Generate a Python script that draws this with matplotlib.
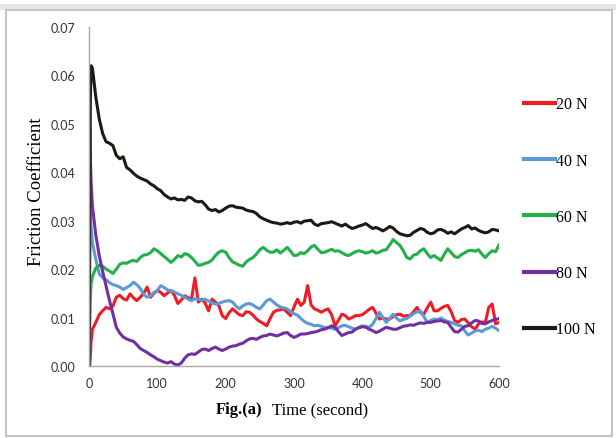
import matplotlib
matplotlib.use("Agg")
import matplotlib.pyplot as plt
from matplotlib.patches import Rectangle

# sample times [s]
time_s = [0, 1, 2, 3] + list(range(5, 605, 5))

# friction coefficient, in units of 1e-3
mu_20 = [
    0, 0, 2, 5,
    7.6, 9.0, 10.6, 11.4, 12.1, 11.8, 12.4, 14.2, 14.6, 13.9,
    13.6, 14.9, 14.1, 13.5, 14.2, 15.0, 16.3, 14.2, 15.0, 15.6,
    15.2, 14.5, 15.1, 15.6, 14.6, 12.9, 13.6, 14.5, 14.1, 13.8,
    18.2, 13.2, 13.8, 13.0, 11.4, 13.8, 13.2, 12.5, 10.4, 9.8,
    11.0, 11.8, 11.2, 10.6, 10.4, 11.2, 11.1, 10.5, 9.7, 9.2,
    8.8, 8.3, 9.8, 11.1, 11.5, 11.6, 11.8, 11.1, 10.4, 12.2,
    13.8, 12.5, 13.2, 16.6, 12.6, 11.8, 11.5, 11.1, 11.5, 11.8,
    10.6, 8.3, 9.4, 10.7, 10.4, 9.7, 10.0, 10.4, 10.4, 10.6,
    11.1, 11.7, 12.1, 10.9, 9.7, 9.9, 9.7, 9.7, 10.2, 10.6,
    10.7, 10.3, 10.4, 10.4, 11.2, 12.1, 11.0, 10.7, 12.0, 13.2,
    11.4, 11.4, 11.9, 12.3, 12.5, 11.2, 9.4, 9.0, 9.6, 9.7,
    8.9, 8.1, 7.6, 8.7, 9.1, 9.0, 12.1, 12.8, 8.7, 9.0,
]
mu_40 = [
    0, 18, 32, 29,
    25.5, 22.0, 19.0, 18.2, 17.8, 17.2, 16.8, 16.6, 16.3, 15.8,
    16.2, 16.6, 17.3, 16.8, 16.0, 14.8, 14.2, 14.5, 15.2, 15.6,
    16.6, 16.2, 15.7, 15.5, 15.3, 14.9, 14.6, 14.2, 13.8, 13.5,
    13.9, 13.8, 13.6, 13.8, 13.4, 13.0, 12.8, 12.9, 13.2, 13.4,
    13.5, 13.2, 12.4, 11.8, 12.4, 12.8, 12.9, 12.6, 12.1, 11.8,
    12.6, 13.5, 13.8, 13.2, 12.6, 12.2, 12.0, 11.8, 11.2, 10.8,
    10.5, 9.8, 9.2, 8.8, 8.6, 8.3, 8.4, 8.2, 7.9, 8.0,
    7.8, 7.6, 7.9, 8.3, 8.4, 8.1, 7.8, 7.6, 8.0, 8.3,
    8.2, 8.0, 8.6, 9.8, 11.1, 10.0, 9.0, 9.8, 10.7, 9.9,
    9.3, 9.6, 9.8, 10.3, 10.8, 11.2, 11.4, 10.2, 9.0, 9.4,
    9.7, 9.6, 9.9, 9.5, 9.2, 9.0, 8.7, 8.4, 8.3, 7.2,
    6.4, 6.8, 7.2, 7.4, 7.1, 7.6, 7.8, 8.2, 7.8, 7.3,
]
mu_60 = [
    0, 8, 14, 17,
    18.5, 20.2, 20.8, 20.6, 20.0, 19.6, 19.1, 20.0, 21.0, 21.3,
    21.2, 21.6, 21.8, 21.6, 22.4, 22.9, 23.0, 23.4, 24.2, 23.8,
    23.2, 22.6, 22.0, 21.4, 22.0, 22.8, 22.5, 23.2, 23.0, 22.4,
    21.6, 20.8, 20.9, 21.2, 21.4, 21.9, 22.8, 23.5, 23.8, 23.5,
    22.4, 21.5, 21.2, 20.8, 20.6, 21.5, 22.0, 22.4, 23.1, 24.0,
    24.5, 23.9, 23.5, 23.5, 24.0, 23.3, 23.9, 24.5, 23.7, 22.8,
    22.9, 23.4, 23.2, 23.8, 24.6, 24.9, 24.1, 23.4, 23.5, 23.8,
    24.1, 23.7, 23.8, 23.4, 23.0, 22.8, 23.2, 23.6, 23.8, 23.6,
    23.3, 23.5, 23.8, 23.3, 23.5, 23.9, 24.0, 25.0, 26.1, 25.5,
    24.9, 23.8, 22.4, 22.1, 22.9, 23.1, 23.8, 24.2, 23.2, 22.4,
    22.8, 22.3, 21.8, 23.1, 24.2, 23.4, 22.6, 22.4, 23.0, 23.4,
    23.8, 23.9, 23.7, 24.0, 23.1, 22.4, 23.2, 23.8, 23.6, 25.0,
]
mu_80 = [
    0, 49, 43, 38,
    33.0, 27.0, 22.8, 19.5, 16.5, 13.5, 10.8, 8.0, 6.8, 6.0,
    5.6, 5.3, 5.1, 4.4, 3.6, 3.2, 2.8, 2.3, 1.9, 1.4,
    1.1, 0.8, 0.6, 0.9, 0.4, 0.2, 0.6, 1.6, 2.3, 2.5,
    2.4, 2.9, 3.4, 3.5, 3.2, 3.6, 3.9, 3.5, 3.2, 3.5,
    3.9, 4.1, 4.2, 4.5, 4.7, 5.2, 5.6, 5.7, 5.5, 5.9,
    6.2, 6.3, 6.6, 6.4, 6.2, 6.5, 6.8, 6.9, 6.3, 5.9,
    6.2, 6.6, 6.6, 6.7, 6.9, 7.0, 7.2, 7.5, 7.6, 7.9,
    8.3, 8.0, 7.1, 6.3, 6.6, 6.9, 7.0, 7.6, 7.9, 8.1,
    8.0, 7.6, 7.3, 6.9, 7.2, 7.6, 8.0, 7.8, 7.6, 7.6,
    7.9, 8.2, 8.3, 8.5, 8.4, 8.7, 8.9, 8.8, 9.0, 9.0,
    9.2, 9.3, 9.4, 9.1, 9.0, 8.0, 7.1, 7.0, 7.6, 8.2,
    8.3, 8.9, 9.4, 9.3, 8.8, 8.7, 9.1, 9.4, 9.6, 9.8,
]
mu_100 = [
    0, 30, 55, 62,
    61.5, 55.5, 51.0, 48.0, 46.3, 46.0, 45.5, 43.5, 42.8, 43.2,
    41.0, 40.5, 39.8, 39.2, 38.8, 38.5, 38.2, 37.6, 37.2, 36.6,
    36.2, 35.4, 34.9, 34.5, 34.7, 34.3, 34.4, 34.2, 34.9, 34.7,
    34.1, 33.9, 34.0, 33.3, 32.4, 32.1, 32.3, 31.8, 32.1, 32.6,
    33.0, 33.1, 32.8, 32.7, 32.6, 32.2, 32.0, 31.9, 31.5, 30.8,
    30.4, 30.1, 29.8, 29.6, 29.5, 29.3, 29.4, 29.6, 29.4, 29.7,
    29.8, 29.5, 29.9, 30.0, 30.1, 29.3, 29.0, 29.4, 29.5, 29.6,
    29.8, 29.5, 29.2, 28.9, 29.3, 28.8, 28.4, 28.6, 28.9, 29.1,
    29.4, 28.9, 28.4, 28.6, 28.3, 27.9, 28.3, 28.8, 28.5, 27.8,
    27.3, 27.1, 26.9, 27.0, 27.6, 28.0, 28.4, 28.2, 27.6, 27.3,
    27.5, 28.1, 28.2, 27.9, 27.4, 27.7, 27.3, 27.8, 28.3, 28.6,
    29.0, 28.3, 28.5, 28.0, 27.7, 27.5, 27.7, 28.2, 28.1, 27.9,
]

labels = ["20 N", "40 N", "60 N", "80 N", "100 N"]
colors = ["#ee1c25", "#5b9bd5", "#22b04b", "#7030a0", "#1c1812"]
series = [mu_20, mu_40, mu_60, mu_80, mu_100]

fig = plt.figure(figsize=(6.16, 4.39), dpi=100)
fig.patch.set_facecolor("white")

# window-like frame around the chart
fig.patches.append(Rectangle((0.0, 1 - 11 / 439), 1.0, 6 / 439, transform=fig.transFigure,
                             facecolor="#e6e6e6", edgecolor="none"))
fig.patches.append(Rectangle((6 / 616, 2 / 439), 606 / 616, 426 / 439, transform=fig.transFigure,
                             facecolor="none", edgecolor="#c4c4c4", lw=1.5))

ax = fig.add_axes([89 / 616, 72 / 439, 410 / 616, 339 / 439])

for vals, c, lab in zip(series, colors, labels):
    ax.plot(time_s, [v / 1000 for v in vals], color=c, lw=2.2, label=lab)

ax.set_xlim(0, 600)
ax.set_ylim(0, 0.07)
ax.set_xticks([0, 100, 200, 300, 400, 500, 600])
ax.set_yticks([0, 0.01, 0.02, 0.03, 0.04, 0.05, 0.06, 0.07])
ax.yaxis.set_major_formatter(matplotlib.ticker.FormatStrFormatter("%.2f"))
for lab in ax.get_xticklabels() + ax.get_yticklabels():
    lab.set_family("Lato")
    lab.set_fontsize(9)
    lab.set_color("#333333")
ax.tick_params(axis="both", length=0)
ax.tick_params(axis="x", pad=8)
ax.tick_params(axis="y", pad=10)

for side in ["top", "right"]:
    ax.spines[side].set_visible(False)
for side in ["left", "bottom"]:
    ax.spines[side].set_color("#a6a6a6")
    ax.spines[side].set_linewidth(1.0)

fig.text(37 / 616, 1 - 192 / 439, "Friction Coefficient", rotation=90, ha="center", va="center",
         family="Liberation Serif", fontsize=13.5)
fig.text(262 / 616, 1 - 410 / 439, "Fig.(a)", ha="right", va="center",
         family="Liberation Serif", fontsize=12, weight="bold")
fig.text(272 / 616, 1 - 410 / 439, "Time (second)", ha="left", va="center",
         family="Liberation Serif", fontsize=12)

leg = ax.legend(loc="upper left", bbox_to_anchor=(510 / 616, 1 - 83 / 439),
                bbox_transform=fig.transFigure, frameon=False,
                prop={"family": "Liberation Serif", "size": 11.5},
                handlelength=1.9, handletextpad=0.1, labelspacing=2.52)
for line in leg.get_lines():
    line.set_linewidth(3)

fig.savefig("out.png", dpi=100)
